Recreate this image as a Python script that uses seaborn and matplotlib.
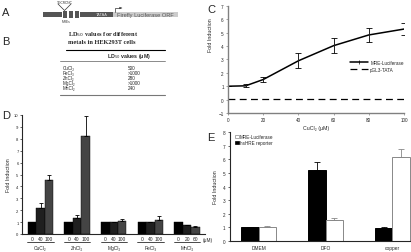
import matplotlib
matplotlib.use('Agg')
import matplotlib.pyplot as plt
import matplotlib.patches as mpatches
from matplotlib.lines import Line2D
from matplotlib.container import BarContainer
import matplotlib.transforms as mtransforms
import seaborn as sns
import pandas as pd

sns.set_style('white')
plt.rcParams['font.family'] = ['Liberation Sans', 'DejaVu Sans']

# panel B: LD50 table
metals_b = ['CuCl₂', 'FeCl₃', 'ZnCl₂', 'MgCl₂', 'MnCl₂']
ld50 = ['500', '>1000', '280', '>1000', '240']

# panel C: copper dose response
cu_dose = [0, 10, 20, 40, 60, 80, 100]
mre_fold = [1.0, 1.03, 1.5, 2.9, 4.03, 4.83, 5.27]
mre_err = [0.0, 0.1, 0.18, 0.55, 0.55, 0.5, 0.48]
tata_fold = [0.05, 0.05, 0.05, 0.05, 0.05, 0.05, 0.05]

# panel D: metals
metals_d = ['CuCl₂', 'ZnCl₂', 'MgCl₂', 'FeCl₃', 'MnCl₂']
doses_d = [['0', '40', '100'], ['0', '40', '100'], ['0', '40', '100'],
           ['0', '40', '100'], ['0', '20', '60']]
fold_d = [[1.0, 2.16, 4.56], [1.0, 1.37, 8.2], [1.0, 0.97, 1.12],
          [1.0, 0.97, 1.2], [1.0, 0.76, 0.62]]
err_d = [[0.03, 0.42, 0.42], [0.03, 0.23, 1.7], [0.03, 0.08, 0.14],
         [0.03, 0.07, 0.34], [0.03, 0.03, 0.05]]

# panel E: DFO vs copper
treat = ['DMEM', 'DFO', 'copper']
hre_fold = [1.0, 5.2, 0.95]
hre_err = [0.05, 0.62, 0.07]
mre_e_fold = [1.0, 1.55, 6.15]
mre_e_err = [0.12, 0.17, 0.6]

W, H = 411, 253
fig = plt.figure(figsize=(W / 100, H / 100), dpi=100)


def box(x0, y0, x1, y1):
    return [x0 / W, 1 - y1 / H, (x1 - x0) / W, (y1 - y0) / H]


# background axes in pixel units for letters, diagram and table
bg = fig.add_axes([0, 0, 1, 1])
bg.set_xlim(0, W)
bg.set_ylim(H, 0)
bg.axis('off')

for lab, (lx, ly) in zip('ABCDE', [(2, 12.5), (2, 42), (207, 10), (2, 116), (207, 138)]):
    bg.text(lx, ly, lab, fontsize=8, va='center', ha='left')

# panel A promoter diagram
dark = '#555555'
bg.add_patch(mpatches.Rectangle((43, 13), 19, 4.5, color=dark, lw=0))
for sx in [63, 69, 75]:
    bg.add_patch(mpatches.Rectangle((sx, 11.5), 3.5, 7.5, color=dark, lw=0))
bg.add_patch(mpatches.Rectangle((80, 13), 33, 4.5, color=dark, lw=0))
bg.add_patch(mpatches.Rectangle((113, 13.3), 65, 4.2, color='#cccccc', lw=0))
bg.text(96, 15.4, 'TATAA', fontsize=2.8, color='#dddddd', va='center')
bg.text(117, 15.4, 'Firefly Luciferase ORF', fontsize=4.1, color='#555555', va='center')
bg.plot([58, 64.5, 71], [5, 11.5, 5], color='#333333', lw=0.5)
bg.text(64.5, 2.5, 'TGCRCNC', fontsize=2.3, ha='center', va='center', color='#333333')
bg.text(66, 21.5, 'MREs', fontsize=2.3, ha='center', va='center', color='#333333')
bg.plot([115, 115, 120], [13, 9, 9], color='#333333', lw=0.5)
bg.annotate('', xy=(122, 9), xytext=(119, 9),
            arrowprops=dict(arrowstyle='-|>', lw=0.4, color='#333333', mutation_scale=3))

# panel B table
bg.text(68, 34.5, 'LD$_{50}$ values for different', fontsize=4.6, fontweight='bold',
        family=['Liberation Serif', 'DejaVu Serif'], va='center')
bg.text(68, 42.5, 'metals in HEK293T cells', fontsize=4.6, fontweight='bold',
        family=['Liberation Serif', 'DejaVu Serif'], va='center')
bg.plot([66, 165], [50.7, 50.7], color='black', lw=0.8)
bg.text(107, 56.5, 'LD$_{50}$ values (μM)', fontsize=3.8, fontweight='bold', va='center')
bg.plot([60, 165], [61.5, 61.5], color='#777777', lw=0.6)
for i, (m, v) in enumerate(zip(metals_b, ld50)):
    bg.text(63, 68 + 5 * i, m, fontsize=3.3, va='center')
    bg.text(128, 68 + 5 * i, v, fontsize=3.3, va='center')
bg.plot([60, 165], [95.5, 95.5], color='#777777', lw=0.8)

# panel C
axC = fig.add_axes(box(228, 6.9, 404, 114))
sns.lineplot(x=cu_dose, y=mre_fold, color='black', lw=1.1, ax=axC,
             marker='|', markersize=3, markeredgewidth=0.5)
axC.errorbar(cu_dose, mre_fold, yerr=mre_err, fmt='none', ecolor='black',
             elinewidth=0.6, capsize=2, capthick=0.6)
sns.lineplot(x=cu_dose, y=tata_fold, color='black', lw=0.9, ax=axC,
             linestyle=(0, (5.5, 3.5)))
axC.set_xlim(0, 100)
axC.set_ylim(-1, 7)
axC.set_xticks([0, 20, 40, 60, 80, 100])
axC.set_yticks(range(-1, 8))
axC.set_xlabel('CuCl₂ (μM)', fontsize=3.8, labelpad=2)
axC.set_ylabel('Fold Induction', fontsize=3.8)
axC.yaxis.set_label_coords(-0.085, 0.74)
handles = [Line2D([0], [0], color='black', lw=1.1, marker='|', ms=3, mew=0.5),
           Line2D([0], [0], color='black', lw=0.9, linestyle=(0, (5.5, 3.5)))]
axC.legend(handles, ['MRE-Luciferase', 'pGL3-TATA'], loc='center left',
           bbox_to_anchor=(0.67, 0.44), fontsize=3.3, frameon=False,
           handlelength=4, handletextpad=0.4, labelspacing=0.4)
sns.despine(ax=axC)
for s in ['left', 'bottom']:
    axC.spines[s].set_color('#808080')
    axC.spines[s].set_linewidth(1.0)
axC.tick_params(labelsize=3.3, length=1.5, width=0.5, pad=1.5, color='#808080',
                bottom=True, left=True)

# panel D
rows = []
for i, m in enumerate(metals_d):
    for j in range(3):
        rows.append({'metal': m, 'level': str(j), 'fold': fold_d[i][j]})
df_d = pd.DataFrame(rows)
axD = fig.add_axes(box(22, 116, 205, 235))
sns.barplot(data=df_d, x='metal', y='fold', hue='level', ax=axD,
            palette=['#000000', '#1f1f1f', '#444444'], width=0.69,
            errorbar=None, legend=False, edgecolor='black', linewidth=0.3)
bars_d = [c for c in axD.containers if isinstance(c, BarContainer)]
centers = []
labels = []
for j, cont in enumerate(bars_d):
    for i, p in enumerate(cont.patches):
        xc = p.get_x() + p.get_width() / 2
        axD.errorbar(xc, p.get_height(), yerr=[[0], [err_d[i][j]]], fmt='none',
                     ecolor='black', elinewidth=0.6, capsize=1.3, capthick=0.6)
        centers.append(xc)
        labels.append(doses_d[i][j])
axD.set_xticks(centers)
axD.set_xticklabels(labels)
axD.set_xlim(-0.505, 4.49)
axD.set_ylim(0, 10)
axD.set_yticks(range(0, 11))
axD.set_xlabel('')
axD.set_ylabel('Fold Induction', fontsize=3.8, labelpad=2)
sns.despine(ax=axD)
for s in ['left', 'bottom']:
    axD.spines[s].set_linewidth(0.8)
axD.tick_params(axis='y', labelsize=3.0, length=1.5, width=0.5, pad=1, left=True)
axD.tick_params(axis='x', labelsize=3.5, length=0, pad=1.5)
trD = mtransforms.blended_transform_factory(axD.transData, axD.transAxes)
for i, m in enumerate(metals_d):
    axD.plot([i - 0.36, i + 0.36], [-0.066, -0.066], color='black', lw=0.5,
             transform=trD, clip_on=False)
    axD.text(i, -0.11, m, fontsize=3.5, ha='center', va='center', transform=trD)
axD.text(4.42, -0.045, '(μM)', fontsize=3.5, ha='left', va='center', transform=trD)

# panel E
rows = []
for t, a, b in zip(treat, hre_fold, mre_e_fold):
    rows.append({'treat': t, 'rep': 'hsHRE reporter', 'fold': a})
    rows.append({'treat': t, 'rep': 'MRE-Luciferase', 'fold': b})
df_e = pd.DataFrame(rows)
axE = fig.add_axes(box(230, 133, 411, 242))
sns.barplot(data=df_e, x='treat', y='fold', hue='rep', ax=axE,
            hue_order=['hsHRE reporter', 'MRE-Luciferase'],
            palette=['black', 'white'], width=0.52, errorbar=None, legend=False)
bars_e = [c for c in axE.containers if isinstance(c, BarContainer)]
errs = [hre_err, mre_e_err]
ecols = ['black', '#888888']
for j, cont in enumerate(bars_e):
    for i, p in enumerate(cont.patches):
        p.set_edgecolor(ecols[j])
        p.set_linewidth(0.7)
        xc = p.get_x() + p.get_width() / 2
        axE.errorbar(xc, p.get_height(), yerr=[[0], [errs[j][i]]], fmt='none',
                     ecolor=ecols[j], elinewidth=0.6, capsize=2, capthick=0.6)
axE.set_xlim(-0.43, 2.28)
axE.set_ylim(0, 8)
axE.set_yticks(range(0, 9))
axE.set_xlabel('')
axE.set_ylabel('Fold Induction', fontsize=3.8, labelpad=3)
sns.despine(ax=axE)
for s in ['left', 'bottom']:
    axE.spines[s].set_linewidth(0.8)
axE.tick_params(axis='y', labelsize=3.3, length=1.5, width=0.5, pad=2, left=True)
axE.tick_params(axis='x', labelsize=3.5, length=0, pad=3)
ehandles = [mpatches.Patch(facecolor='white', edgecolor='#888888', lw=0.5),
            mpatches.Patch(facecolor='black', edgecolor='black', lw=0.5)]
axE.legend(ehandles, ['MRE-Luciferase', 'hsHRE reporter'], loc='upper left',
           bbox_to_anchor=(0.005, 1.02), fontsize=3.3, frameon=False,
           handlelength=0.8, handleheight=0.8, handletextpad=0.3, labelspacing=0.3)

fig.savefig('out.png', dpi=100)
